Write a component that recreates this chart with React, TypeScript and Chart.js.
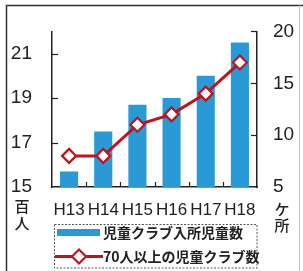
import { useEffect, useRef } from "react";
import { Chart, registerables } from "chart.js";

Chart.register(...registerables);

const categories = ["H13", "H14", "H15", "H16", "H17", "H18"];
const childrenEnrolled = [15.7, 17.5, 18.7, 19.0, 20.0, 21.5]; // 百人
const largeClubs = [8, 8, 11, 12, 14, 17]; // ケ所
const leftTicks = [15, 17, 19, 21];
const rightTicks = [5, 10, 15, 20];
const barLabel = "児童クラブ入所児童数";
const lineLabel = "70人以上の児童クラブ数";
const leftUnit = ["百", "人"];
const rightUnit = ["ケ", "所"];

const BLUE = "#2a9ad6";
const RED = "#c0141c";
const INK = "#222222";
const NUM_FONT = "'Liberation Sans', Arial, sans-serif";
const JP_FONT = "'Noto Sans CJK JP', sans-serif";

const decor = {
  id: "decor",
  afterDraw(chart: any) {
    const ctx: CanvasRenderingContext2D = chart.ctx;
    const { left, right, bottom } = chart.chartArea;
    const yL = chart.scales.yL;
    const yR = chart.scales.yR;
    const x = chart.scales.x;
    const line = (x1: number, y1: number, x2: number, y2: number) => {
      ctx.beginPath();
      ctx.moveTo(x1, y1);
      ctx.lineTo(x2, y2);
      ctx.stroke();
    };
    ctx.save();
    // outer frame
    ctx.strokeStyle = "#333";
    ctx.lineWidth = 1.5;
    ctx.beginPath();
    ctx.moveTo(6.5, 271);
    ctx.lineTo(6.5, 5.5);
    ctx.lineTo(303, 5.5);
    ctx.stroke();
    ctx.strokeStyle = "#c8c8c8";
    ctx.lineWidth = 1;
    line(299.5, 5.5, 299.5, 271);

    // inward tick marks
    ctx.strokeStyle = INK;
    ctx.lineWidth = 1.2;
    leftTicks.forEach((v) => {
      if (v === yL.min) return;
      const py = Math.round(yL.getPixelForValue(v)) + 0.5;
      line(left, py, left + 6, py);
    });
    rightTicks.forEach((v) => {
      if (v === yR.min) return;
      const py = Math.round(yR.getPixelForValue(v)) + 0.5;
      line(right - 6, py, right, py);
    });
    for (let i = 1; i < categories.length; i++) {
      const px = Math.round((x.getPixelForValue(i - 1) + x.getPixelForValue(i)) / 2) + 0.5;
      line(px, bottom - 5, px, bottom);
    }

    // unit labels
    ctx.fillStyle = INK;
    ctx.font = `500 15px ${JP_FONT}`;
    ctx.textAlign = "center";
    ctx.textBaseline = "middle";
    ctx.fillText(leftUnit[0], 22, 206);
    ctx.fillText(leftUnit[1], 22, 223);
    ctx.fillText(rightUnit[0], 282, 209);
    ctx.fillText(rightUnit[1], 282, 225);

    // legend
    const ds = chart.data.datasets;
    ctx.setLineDash([2, 1.5]);
    ctx.strokeStyle = "#555";
    ctx.lineWidth = 1;
    ctx.strokeRect(54.5, 224.5, 202.5, 43.5);
    ctx.setLineDash([]);
    const barDs = ds.find((d: any) => d.type === "bar");
    const lineDs = ds.find((d: any) => d.type === "line");
    ctx.fillStyle = barDs.backgroundColor;
    ctx.fillRect(57, 229, 43, 7);
    ctx.strokeStyle = lineDs.borderColor;
    ctx.lineWidth = 3;
    line(55, 256.5, 103, 256.5);
    const cx = 79, cy = 256.5, r = 7;
    ctx.beginPath();
    ctx.moveTo(cx - r, cy);
    ctx.lineTo(cx, cy - r);
    ctx.lineTo(cx + r, cy);
    ctx.lineTo(cx, cy + r);
    ctx.closePath();
    ctx.fillStyle = "#fff";
    ctx.fill();
    ctx.lineWidth = 2.2;
    ctx.stroke();
    ctx.fillStyle = INK;
    ctx.font = `bold 14px ${JP_FONT}`;
    ctx.textAlign = "left";
    ctx.fillText(barDs.label, 103, 233);
    ctx.fillText(lineDs.label, 103, 257);
    ctx.restore();
  },
};

export default function App() {
  const ref = useRef<HTMLCanvasElement | null>(null);
  useEffect(() => {
    if (!ref.current) return;
    const chart = new Chart(ref.current, {
      data: {
        labels: categories,
        datasets: [
          {
            type: "line",
            label: lineLabel,
            data: largeClubs,
            yAxisID: "yR",
            order: 0,
            borderColor: RED,
            borderWidth: 3,
            pointStyle: "rectRot",
            pointRadius: 7,
            pointBorderWidth: 2.2,
            pointBackgroundColor: "#ffffff",
            pointBorderColor: RED,
            tension: 0,
          } as any,
          {
            type: "bar",
            label: barLabel,
            data: childrenEnrolled,
            yAxisID: "yL",
            order: 1,
            backgroundColor: BLUE,
            borderWidth: 0,
            categoryPercentage: 1,
            barPercentage: 0.53,
          } as any,
        ],
      },
      options: {
        responsive: false,
        animation: false,
        layout: { padding: { top: 29, left: 0, right: 0, bottom: 0 } },
        plugins: { legend: { display: false }, tooltip: { enabled: false } },
        scales: {
          x: {
            type: "category",
            offset: true,
            grid: { display: false, drawTicks: false },
            border: { display: true, color: INK, width: 1.5 },
            ticks: {
              color: INK,
              font: { family: NUM_FONT, size: 17 },
              padding: 13,
              autoSkip: false,
              maxRotation: 0,
            },
            afterFit: (s: any) => {
              s.height = 84;
            },
          },
          yL: {
            type: "linear",
            position: "left",
            min: 15,
            max: 22,
            grid: { display: false, drawTicks: false },
            border: { display: true, color: INK, width: 1.5 },
            ticks: {
              color: INK,
              font: { family: NUM_FONT, size: 19 },
              padding: 20,
            },
            afterBuildTicks: (s: any) => {
              s.ticks = leftTicks.map((v) => ({ value: v }));
            },
            afterFit: (s: any) => {
              s.width = 52;
            },
          },
          yR: {
            type: "linear",
            position: "right",
            min: 5,
            max: 20,
            grid: { display: false, drawTicks: false },
            border: { display: true, color: INK, width: 1.5 },
            ticks: {
              color: INK,
              font: { family: NUM_FONT, size: 19 },
              padding: 16,
            },
            afterBuildTicks: (s: any) => {
              s.ticks = rightTicks.map((v) => ({ value: v }));
            },
            afterFit: (s: any) => {
              s.width = 46;
            },
          },
        },
      },
      plugins: [decor],
    });
    return () => chart.destroy();
  }, []);
  return (
    <div style={{ position: "absolute", left: 0, top: 0, width: 303, height: 271, background: "#fff" }}>
      <canvas ref={ref} width={303} height={271} style={{ width: 303, height: 271, display: "block" }} />
    </div>
  );
}
